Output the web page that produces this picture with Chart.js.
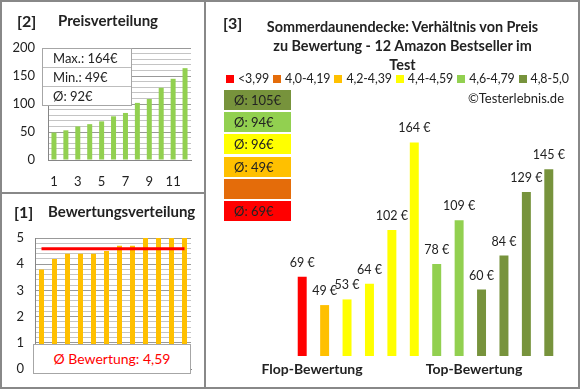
<!DOCTYPE html>
<html>
<head>
<meta charset="utf-8">
<script src="https://cdn.jsdelivr.net/npm/chart.js@4"></script>
<style>
  body { margin: 0; background: #fff; font-family: Lato, "Open Sans", sans-serif; color: #222; }
  #page { position: relative; width: 580px; height: 390px; overflow: hidden; background: #fff; }
  .abs { position: absolute; }
  .frame { left: 0; top: 0; width: 580px; height: 389px; box-sizing: border-box; border: 2px solid #888; }
  .vline { left: 204px; top: 0; width: 2px; height: 389px; background: #888; }
  .hline { left: 0; top: 192px; width: 205px; height: 2px; background: #888; }
  .num { font-weight: bold; font-size: 16px; }
  .ptitle { font-weight: bold; font-size: 15px; }
  .infobox { left: 42px; top: 48px; width: 90px; background: #fff; border: 1px solid #a6a6a6; box-sizing: border-box; font-size: 13px; }
  .infobox div { height: 18px; line-height: 18px; padding-left: 10px; border-top: 1px solid #bdbdbd; }
  .infobox div:first-child { border-top: none; }
  .ratebox { left: 33px; top: 344px; width: 158px; height: 30px; background: #fff; border: 1px solid #a6a6a6; box-sizing: border-box;
             color: #ff0000; font-size: 14px; text-align: center; line-height: 28px; }
  .title { left: 245px; width: 315px; top: 17px; text-align: center; font-weight: bold; font-size: 14.4px; line-height: 19px; }
  .legend { left: 226px; top: 71px; display: flex; gap: 4px; font-size: 12.4px; line-height: 15px; white-space: nowrap; letter-spacing: -0.1px; }
  .legend div { white-space: nowrap; }
  .legend span.sq { display: inline-block; width: 8px; height: 8px; margin-right: 4px; vertical-align: 0px; }
  .avgbox { left: 224px; width: 67px; height: 20px; font-size: 13px; line-height: 20px; box-sizing: border-box; padding-left: 10px; }
  .copy { right: 16px; top: 90px; font-size: 13px; }
  .foot { top: 360px; font-weight: bold; font-size: 14px; transform: translateX(-50%); white-space: nowrap; }
</style>
</head>
<body>
<div id="page">
  <canvas id="priceChart" class="abs" style="left:0;top:0" width="200" height="192"></canvas>
  <canvas id="rateChart" class="abs" style="left:0;top:193px" width="205" height="195"></canvas>
  <canvas id="mainChart" class="abs" style="left:266px;top:100px" width="314" height="256"></canvas>

  <div class="abs frame"></div>
  <div class="abs vline"></div>
  <div class="abs hline"></div>

  <div class="abs num" style="left:17px;top:11px">[2]</div>
  <div class="abs ptitle" style="left:58px;top:11px">Preisverteilung</div>
  <div class="abs infobox" id="infobox"></div>

  <div class="abs num" style="left:14px;top:202px">[1]</div>
  <div class="abs ptitle" style="left:48px;top:202px">Bewertungsverteilung</div>
  <div class="abs ratebox" id="ratebox"></div>

  <div class="abs num" style="left:223px;top:13px">[3]</div>
  <div class="abs title">Sommerdaunendecke: Verhältnis von Preis<br>zu Bewertung - 12 Amazon Bestseller im<br>Test</div>
  <div class="abs legend" id="legend"></div>
  <div class="abs copy">©Testerlebnis.de</div>
  <div id="boxes"></div>
  <div class="abs foot" style="left:312px">Flop-Bewertung</div>
  <div class="abs foot" style="left:474px">Top-Bewertung</div>
</div>

<script>
// products in the order of the main chart (worst rating -> best rating)
var products = ['1', '2', '3', '4', '5', '6', '7', '8', '9', '10', '11', '12'];
var prices = [69, 49, 53, 64, 102, 164, 78, 109, 60, 84, 129, 145];
var ratings = [3.8, 4.2, 4.4, 4.4, 4.4, 4.5, 4.7, 4.7, 5.0, 5.0, 5.0, 5.0];

var classLabels = ['<3,99', '4,0-4,19', '4,2-4,39', '4,4-4,59', '4,6-4,79', '4,8-5,0'];
var classFrom = [0, 4.0, 4.2, 4.4, 4.6, 4.8];
var classColors = ['#ff0000', '#e46c0a', '#ffc000', '#ffff00', '#92d050', '#77933c'];

var priceTicks = [0, 50, 100, 150, 200];
var ratingTicks = [0, 1, 2, 3, 4, 5];

function classOf(r) {
  var c = 0;
  for (var i = 0; i < classFrom.length; i++) {
    if (r >= classFrom[i] - 1e-9) c = i;
  }
  return c;
}

var pricesSorted = prices.slice().sort(function(a, b) { return a - b; });
var ratingsSorted = ratings.slice().sort(function(a, b) { return a - b; });
var sum = function(a) { return a.reduce(function(s, v) { return s + v; }, 0); };
var avgPrice = sum(prices) / prices.length;
var avgRating = sum(ratings) / ratings.length;
var avgLine = products.map(function() { return avgRating; });

// text boxes
document.getElementById('infobox').innerHTML =
  '<div>Max.: ' + Math.max.apply(null, prices) + '€</div>' +
  '<div>Min.: ' + Math.min.apply(null, prices) + '€</div>' +
  '<div>Ø: ' + Math.round(avgPrice) + '€</div>';
document.getElementById('ratebox').textContent = 'Ø Bewertung: ' + avgRating.toFixed(2).replace('.', ',');

var leg = '';
for (var i = 0; i < classLabels.length; i++) {
  leg += '<div><span class="sq" style="background:' + classColors[i] + '"></span>' + classLabels[i] + '</div>';
}
document.getElementById('legend').innerHTML = leg;

var boxHtml = '';
for (var k = 5; k >= 0; k--) {
  var vals = prices.filter(function(p, j) { return classOf(ratings[j]) === k; });
  var txt = vals.length ? 'Ø: ' + Math.round(sum(vals) / vals.length) + '€' : '';
  boxHtml += '<div class="abs avgbox" style="top:' + (90 + (5 - k) * 22.2) + 'px;background:' + classColors[k] + '">' + txt + '</div>';
}
document.getElementById('boxes').innerHTML = boxHtml;

Chart.defaults.font.family = 'Lato, "Open Sans", sans-serif';
Chart.defaults.color = '#222';

// [2] Preisverteilung
new Chart(document.getElementById('priceChart'), {
  type: 'bar',
  data: {
    labels: products,
    datasets: [{ data: pricesSorted, backgroundColor: '#92d050', barPercentage: 0.42, categoryPercentage: 1 }]
  },
  options: {
    responsive: false, animation: false,
    layout: { padding: { top: 48, right: 9, left: 0, bottom: 0 } },
    plugins: { legend: { display: false }, tooltip: { enabled: false } },
    scales: {
      x: {
        grid: { display: false, drawTicks: false },
        border: { color: '#868686', width: 1 },
        ticks: { autoSkip: false, maxRotation: 0, padding: 14, font: { size: 13 },
          callback: function(v, i) { return i % 2 === 0 ? products[i] : ''; } },
        afterFit: function(s) { s.height = 32; }
      },
      y: {
        min: 0, max: 200,
        grid: { drawTicks: false, color: function(c) { return priceTicks.indexOf(c.tick.value) >= 0 ? '#999' : '#c4c4c4'; } },
        border: { color: '#868686', width: 1 },
        ticks: { stepSize: 10, autoSkip: false, padding: 13, font: { size: 13 },
          callback: function(v) { return priceTicks.indexOf(v) >= 0 ? v : ''; } },
        afterFit: function(s) { s.width = 48; }
      }
    }
  }
});

// [1] Bewertungsverteilung
new Chart(document.getElementById('rateChart'), {
  type: 'bar',
  data: {
    labels: products,
    datasets: [
      { type: 'line', data: avgLine, borderColor: '#ff0000', borderWidth: 3, pointRadius: 0, order: 0 },
      { data: ratingsSorted, backgroundColor: '#ffc000', barPercentage: 0.385, categoryPercentage: 1, order: 1 }
    ]
  },
  options: {
    responsive: false, animation: false,
    layout: { padding: { top: 45, right: 14, left: 0, bottom: 0 } },
    plugins: { legend: { display: false }, tooltip: { enabled: false } },
    scales: {
      x: {
        grid: { display: false, drawTicks: false },
        border: { color: '#868686', width: 1 },
        ticks: { display: false },
        afterFit: function(s) { s.height = 15; }
      },
      y: {
        min: 0, max: 5,
        grid: { drawTicks: false, color: function(c) {
          var v = c.tick.value; return Math.abs(v - Math.round(v)) < 1e-6 ? '#999' : '#c4c4c4'; } },
        border: { color: '#868686', width: 1 },
        ticks: { stepSize: 0.2, autoSkip: false, padding: 11, font: { size: 13 },
          callback: function(v) { return Math.abs(v - Math.round(v)) < 1e-6 && ratingTicks.indexOf(Math.round(v)) >= 0 ? Math.round(v) : ''; } },
        afterFit: function(s) { s.width = 35; }
      }
    }
  }
});

// [3] Preis zu Bewertung
var barLabels = {
  id: 'barLabels',
  afterDatasetsDraw: function(chart) {
    var ctx = chart.ctx;
    var meta = chart.getDatasetMeta(0);
    ctx.save();
    ctx.font = '12.5px Lato, "Open Sans", sans-serif';
    ctx.fillStyle = '#222';
    ctx.textAlign = 'center';
    ctx.textBaseline = 'middle';
    meta.data.forEach(function(bar, i) {
      ctx.fillText(prices[i] + ' €', bar.x, bar.y - 14);
    });
    ctx.restore();
  }
};

new Chart(document.getElementById('mainChart'), {
  type: 'bar',
  data: {
    labels: products,
    datasets: [{
      data: prices,
      backgroundColor: ratings.map(function(r) { return classColors[classOf(r)]; }),
      barPercentage: 0.4, categoryPercentage: 1
    }]
  },
  options: {
    responsive: false, animation: false,
    layout: { padding: { left: 25, right: 20, top: 0, bottom: 0 } },
    plugins: { legend: { display: false }, tooltip: { enabled: false } },
    scales: {
      x: { display: false },
      y: { display: false, min: 13, max: 194 }
    }
  },
  plugins: [barLabels]
});
</script>
</body>
</html>
